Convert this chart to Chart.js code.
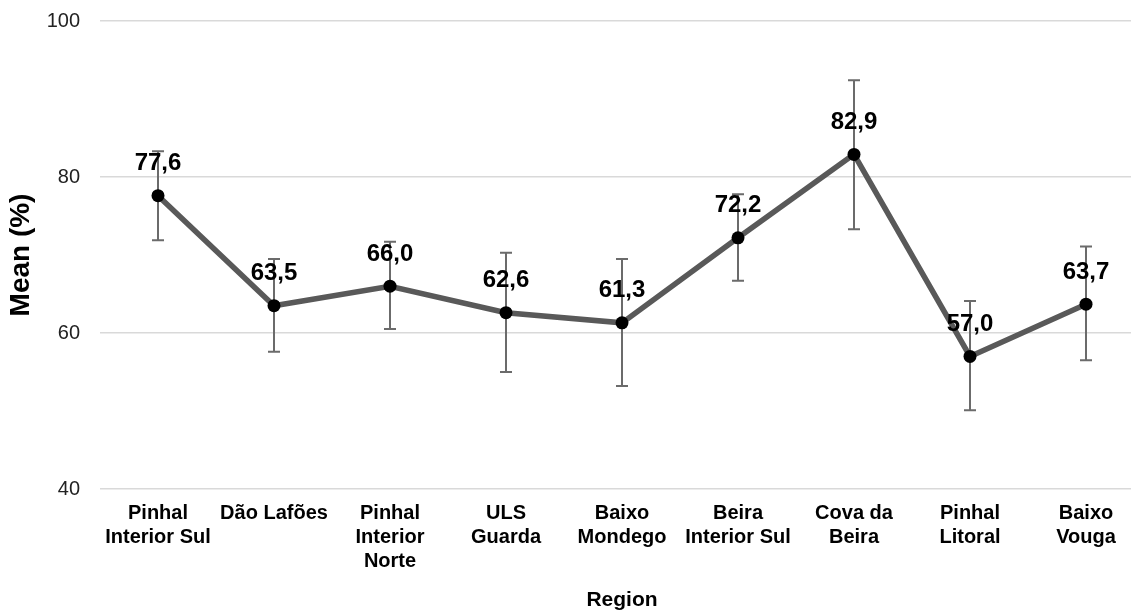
<!DOCTYPE html>
<html>
<head>
<meta charset="utf-8">
<script src="https://cdn.jsdelivr.net/npm/chart.js@4.4.1/dist/chart.umd.min.js"></script>
<style>
  html, body { margin: 0; padding: 0; background: #fff; overflow: hidden; }
  #wrap { position: relative; width: 1144px; height: 614px; }
</style>
</head>
<body>
<div id="wrap"><canvas id="c"></canvas></div>
<script>
const categories = [
  ["Pinhal", "Interior Sul"],
  ["Dão Lafões"],
  ["Pinhal", "Interior", "Norte"],
  ["ULS", "Guarda"],
  ["Baixo", "Mondego"],
  ["Beira", "Interior Sul"],
  ["Cova da", "Beira"],
  ["Pinhal", "Litoral"],
  ["Baixo", "Vouga"]
];
const means = [77.6, 63.5, 66.0, 62.6, 61.3, 72.2, 82.9, 57.0, 63.7];
const upperCI = [83.3, 69.5, 71.7, 70.3, 69.5, 77.8, 92.4, 64.1, 71.1];
const lowerCI = [71.9, 57.6, 60.5, 55.0, 53.2, 66.7, 73.3, 50.1, 56.5];
const yTicks = [40, 60, 80, 100];

const FONT = "'Liberation Sans', Arial, sans-serif";

const errorBars = {
  id: 'errorBars',
  afterDatasetsDraw(chart) {
    const ctx = chart.ctx;
    const meta = chart.getDatasetMeta(0);
    const ys = chart.scales.y;
    ctx.save();
    ctx.strokeStyle = '#6b6b6b';
    ctx.lineWidth = 2;
    meta.data.forEach((pt, i) => {
      const x = pt.x;
      const yu = ys.getPixelForValue(upperCI[i]);
      const yl = ys.getPixelForValue(lowerCI[i]);
      ctx.beginPath();
      ctx.moveTo(x, yu); ctx.lineTo(x, yl);
      ctx.moveTo(x - 6, yu); ctx.lineTo(x + 6, yu);
      ctx.moveTo(x - 6, yl); ctx.lineTo(x + 6, yl);
      ctx.stroke();
    });
    ctx.fillStyle = '#000';
    meta.data.forEach(pt => {
      ctx.beginPath();
      ctx.arc(pt.x, pt.y, 6.5, 0, Math.PI * 2);
      ctx.fill();
    });
    ctx.font = "bold 24px " + FONT;
    ctx.textAlign = 'center';
    ctx.textBaseline = 'middle';
    meta.data.forEach((pt, i) => {
      ctx.fillText(means[i].toFixed(1).replace('.', ','), pt.x, pt.y - 32);
    });
    ctx.restore();
  }
};

new Chart(document.getElementById('c'), {
  type: 'line',
  data: {
    labels: categories,
    datasets: [{
      data: means,
      borderColor: '#595959',
      borderWidth: 5.5,
      pointRadius: 0,
      pointHoverRadius: 0,
      tension: 0,
      fill: false
    }]
  },
  options: {
    responsive: true,
    maintainAspectRatio: false,
    animation: false,
    events: [],
    layout: { padding: { top: 21, right: 0, left: 0, bottom: 0 } },
    plugins: { legend: { display: false }, tooltip: { enabled: false } },
    scales: {
      x: {
        type: 'category',
        offset: true,
        grid: { display: false, drawTicks: false },
        border: { display: false },
        ticks: {
          color: '#000',
          font: { family: FONT, size: 20, weight: 'bold', lineHeight: 1.2 },
          padding: 12,
          maxRotation: 0,
          autoSkip: false
        },
        title: {
          display: true,
          text: 'Region',
          color: '#000',
          font: { family: FONT, size: 21, weight: 'bold' },
          padding: { top: 0, bottom: 1 }
        },
        afterFit(s) { s.height = 125; s.paddingLeft = 0; s.paddingRight = 0; }
      },
      y: {
        min: 40,
        max: 100,
        afterBuildTicks(s) { s.ticks = yTicks.map(v => ({ value: v })); },
        grid: { color: '#d9d9d9', lineWidth: 1.5, drawTicks: false },
        border: { display: false },
        ticks: {
          color: '#222',
          font: { family: FONT, size: 20 },
          padding: 20
        },
        title: {
          display: true,
          text: 'Mean (%)',
          color: '#000',
          font: { family: FONT, size: 28, weight: 'bold' },
          padding: { top: 4, bottom: 0 }
        },
        afterFit(s) { s.width = 100; s.paddingTop = 0; s.paddingBottom = 0; }
      }
    }
  },
  plugins: [errorBars]
});
</script>
</body>
</html>
